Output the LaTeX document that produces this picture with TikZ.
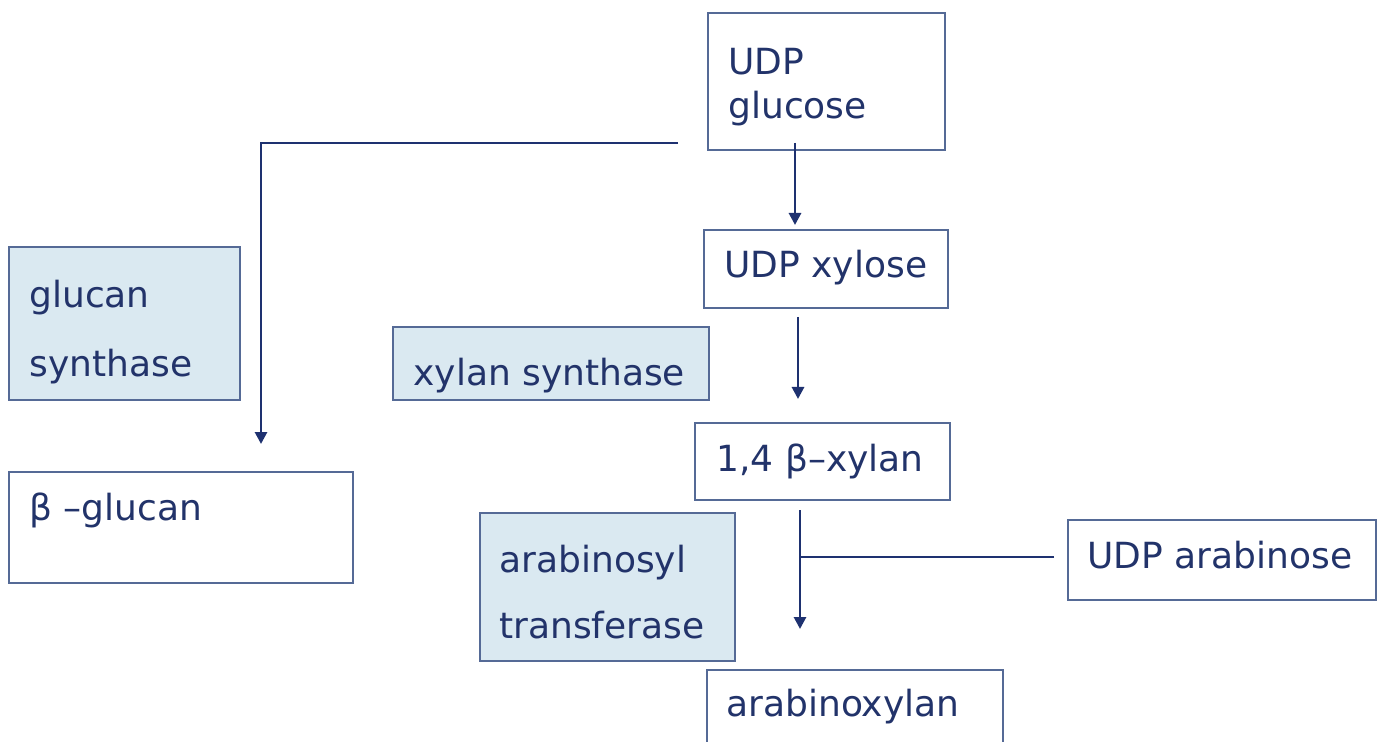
\documentclass[tikz,border=0pt]{standalone}
\usepackage{fontspec}
\setmainfont{DejaVu Sans}
\usetikzlibrary{fit,arrows.meta}
\definecolor{txtcol}{HTML}{22336A}
\definecolor{boxcol}{HTML}{556A96}
\definecolor{linecol}{HTML}{1E3170}
\definecolor{fillcol}{HTML}{DAE9F1}
\tikzset{
  box/.style={draw=boxcol, line width=1pt, inner sep=0pt, fill=white},
  enzbox/.style={box, fill=fillcol},
  lbl/.style={anchor=base west, inner sep=0pt, text=txtcol, font=\fontsize{18pt}{21pt}\selectfont},
  conn/.style={draw=linecol, line width=1.4pt},
  arr/.style={conn, -{Triangle[length=6pt,width=6pt]}}
}
\begin{document}
\begin{tikzpicture}[x=0.5pt,y=-0.5pt]
\clip (0,0) rectangle (1379,742);
\useasboundingbox (0,0) rectangle (1379,742);
\fill[white] (0,0) rectangle (1379,742);
% boxes
\node[box, fit={(708,13) (945,150)}] (glu) {};
\node[box, fit={(704,230) (948,308)}] (xyl) {};
\node[enzbox, fit={(393,327) (709,400)}] (xs) {};
\node[enzbox, fit={(9,247) (240,400)}] (gs) {};
\node[box, fit={(9,472) (353,583)}] (bglu) {};
\node[box, fit={(695,423) (950,500)}] (bxyl) {};
\node[enzbox, fit={(480,513) (735,661)}] (at) {};
\node[box, fit={(1068,520) (1376,600)}] (udpara) {};
\node[box, fit={(707,670) (1003,770)}] (arax) {};
% texts
\node[lbl] (t1a) at (728,75) {UDP};
\node[lbl] (t1b) at (728,119) {glucose};
\node[lbl] (t2) at (724,278) {UDP xylose};
\node[lbl] (t3) at (413,386) {xylan synthase};
\node[lbl] (t4a) at (29,308) {glucan};
\node[lbl] (t4b) at (29,377) {synthase};
\node[lbl] (t5) at (29,520) {β –glucan};
\node[lbl] (t6) at (716,471) {1,4 β–xylan};
\node[lbl] (t7a) at (499,572) {arabinosyl};
\node[lbl] (t7b) at (499,638) {transferase};
\node[lbl] (t8) at (1087,568) {UDP arabinose};
\node[lbl] (t9) at (726,716) {arabinoxylan};
% connector coordinates
\coordinate (g0) at (678,143);
\coordinate (g1) at (261,143);
\coordinate (g2) at (261,444);
\coordinate (a1s) at (795,143);
\coordinate (a1e) at (795,225);
\coordinate (a2s) at (798,317);
\coordinate (a2e) at (798,399);
\coordinate (a3s) at (800,510);
\coordinate (a3e) at (800,629);
\coordinate (j) at (800,557);
% connectors
\draw[arr] (g0) -- (g1) -- (g2);
\draw[arr] (a1s) -- (a1e);
\draw[arr] (a2s) -- (a2e);
\draw[arr] (a3s) -- (a3e);
\draw[conn] (udpara.west |- j) ++(-13,0) -- (j);
\end{tikzpicture}
\end{document}
